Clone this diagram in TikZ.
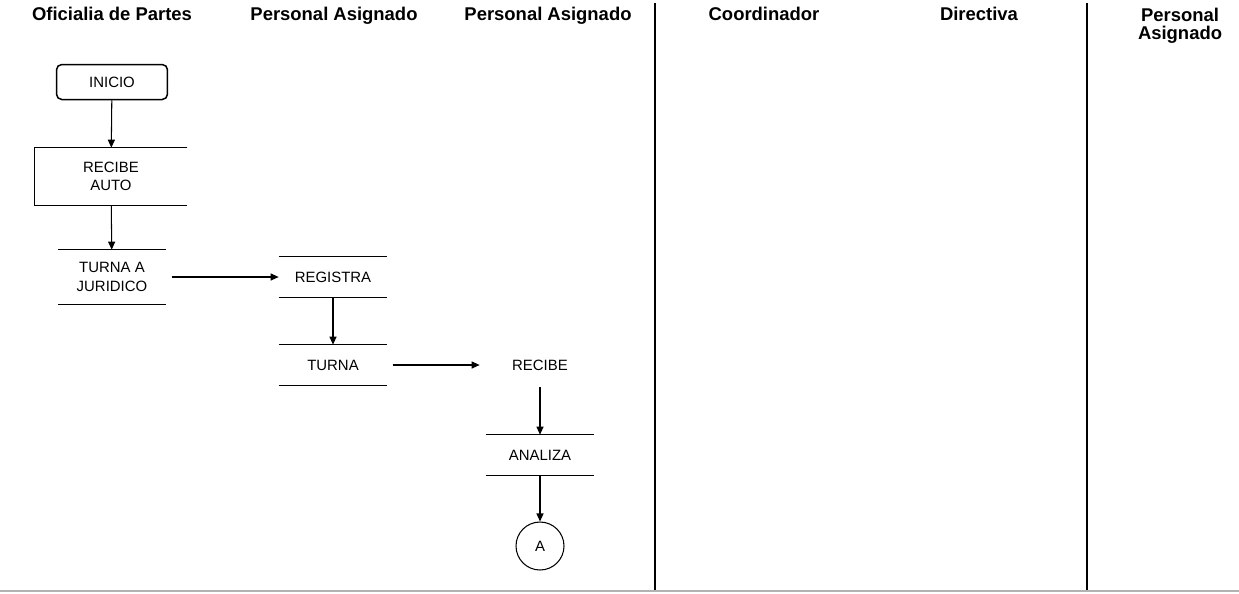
\documentclass[tikz,border=0pt]{standalone}
\usepackage{fontspec}
\setmainfont{Liberation Sans}
\usetikzlibrary{arrows.meta}

\tikzset{
    lane/.style={font=\fontsize{10.5}{12}\selectfont\bfseries, align=center},
    stepbox/.style={minimum width=2.16cm, minimum height=0.8cm, inner sep=1pt, align=center},
    flow/.style={line width=0.6pt, -{Triangle[length=1.6mm, width=1.4mm]}},
    rule/.style={line width=0.85pt}
}

\begin{document}
\begin{tikzpicture}[x=0.02cm, y=-0.02cm, every node/.style={font=\fontsize{8.5}{10.5}\selectfont}]
    \useasboundingbox (0,0) rectangle (1239,593);

    % Lane titles
    \foreach \x/\name/\txt in {112/ofi/Oficialia de Partes, 334/asigA/Personal Asignado, 548/asigB/Personal Asignado, 764/coord/Coordinador, 979/dir/Directiva} {
        \node[lane, anchor=base] (h\name) at (\x,20) {\txt};
    }
    \node[lane, anchor=north] (hasigC) at (1180,2) {Personal\\[-2pt]Asignado};

    % Lane separators
    \draw[line width=1.1pt] (655,3) -- (655,591);
    \draw[line width=1.1pt] (1087,3) -- (1087,591);
    \draw[line width=1.2pt, gray!60] (0,591) -- (1239,591);

    % Oficialia de Partes
    \node[draw, rule, rounded corners=3pt, minimum width=2.22cm, minimum height=0.7cm] (inicio) at (112,82) {INICIO};
    \node[stepbox, minimum width=3.04cm, minimum height=1.14cm] (recibeauto) at (111,176.5) {RECIBE\\AUTO};
    \draw[rule] (recibeauto.north east) -- (recibeauto.north west) -- (recibeauto.south west) -- (recibeauto.south east);
    \node[stepbox, minimum height=1.08cm] (turnaa) at (112,277) {TURNA A\\JURIDICO};

    % Personal Asignado
    \node[stepbox] (registra) at (333,277) {REGISTRA};
    \node[stepbox] (turna) at (333,365) {TURNA};

    % Personal Asignado
    \node[minimum width=2.4cm, minimum height=0.88cm] (recibe) at (540,365) {RECIBE};
    \node[stepbox] (analiza) at (540,455) {ANALIZA};
    \node[draw, circle, line width=0.6pt, minimum size=0.96cm, inner sep=0pt] (conA) at (540,546) {A};

    % top and bottom rules of the steps
    \foreach \n in {turnaa, registra, turna, analiza} {
        \draw[rule] (\n.north west) -- (\n.north east);
        \draw[rule] (\n.south west) -- (\n.south east);
    }

    % Flow
    \draw[flow] (inicio) -- (recibeauto);
    \draw[flow] (recibeauto) -- (turnaa);
    \draw[flow, shorten <=3pt] (turnaa) -- (registra);
    \draw[flow] (registra) -- (turna);
    \draw[flow, shorten <=3pt] (turna) -- (recibe);
    \draw[flow] (recibe) -- (analiza);
    \draw[flow] (analiza) -- (conA);

\end{tikzpicture}
\end{document}
